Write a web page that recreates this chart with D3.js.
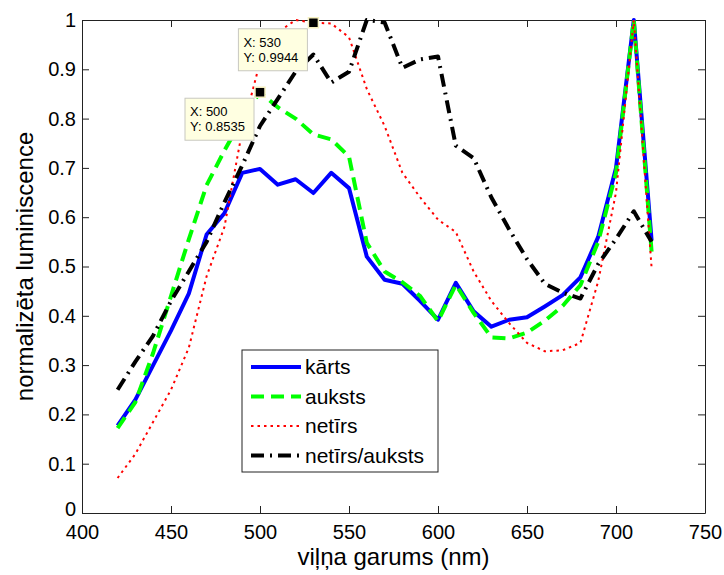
<!DOCTYPE html>
<html>
<head>
<meta charset="utf-8">
<script src="https://cdn.jsdelivr.net/npm/d3@7"></script>
<style>
  body { margin: 0; background: #fff; }
  svg { display: block; font-family: "Liberation Sans", Arial, sans-serif; }
</style>
</head>
<body>
<svg></svg>
<script>
// wavelength (nm)
let wavelengths = [420, 430, 440, 450, 460, 470, 480, 490, 500, 510, 520, 530, 540, 550, 560, 570,
  580, 590, 600, 610, 620, 630, 640, 650, 660, 670, 680, 690, 700, 710, 720];

let karts = [0.177, 0.23, 0.30, 0.37, 0.445, 0.565, 0.608, 0.69, 0.698, 0.666, 0.677, 0.649, 0.69, 0.659, 0.52, 0.473,
  0.465, 0.43, 0.392, 0.467, 0.409, 0.378, 0.392, 0.397, 0.419, 0.442, 0.478, 0.56, 0.70, 1.0, 0.553];

let auksts = [0.172, 0.225, 0.325, 0.44, 0.555, 0.665, 0.735, 0.80, 0.8535, 0.823, 0.80, 0.768, 0.758, 0.723, 0.548, 0.49,
  0.468, 0.44, 0.389, 0.463, 0.406, 0.356, 0.354, 0.366, 0.39, 0.42, 0.462, 0.55, 0.69, 1.0, 0.53];

let netirs = [0.071, 0.12, 0.185, 0.25, 0.335, 0.48, 0.58, 0.775, 0.915, 0.975, 1.0, 0.9944, 0.993, 0.965, 0.86, 0.785,
  0.69, 0.64, 0.595, 0.57, 0.49, 0.43, 0.385, 0.345, 0.328, 0.33, 0.345, 0.47, 0.65, 1.0, 0.497];

let netirsAuksts = [0.25, 0.307, 0.36, 0.43, 0.49, 0.55, 0.63, 0.705, 0.785, 0.84, 0.895, 0.93, 0.873, 0.895, 1.0, 0.995,
  0.903, 0.92, 0.926, 0.745, 0.72, 0.64, 0.575, 0.515, 0.465, 0.447, 0.435, 0.505, 0.556, 0.612, 0.55];

let seriesNames = ['kārts', 'auksts', 'netīrs', 'netīrs/auksts'];

let xTicks = [400, 450, 500, 550, 600, 650, 700, 750];
let yTicks = [0, 0.1, 0.2, 0.3, 0.4, 0.5, 0.6, 0.7, 0.8, 0.9, 1];
let yTickLabels = ['0', '0.1', '0.2', '0.3', '0.4', '0.5', '0.6', '0.7', '0.8', '0.9', '1'];

// data tips
let tipX = [530, 500];
let tipY = [0.9944, 0.8535];

let width = 724;
let height = 575;
let plotLeft = 82, plotRight = 705, plotTop = 20, plotBottom = 513;

let svg = d3.select('svg').attr('width', width).attr('height', height);

let xScale = d3.scaleLinear().domain([400, 750]).range([plotLeft, plotRight]);
let yScale = d3.scaleLinear().domain([0, 1]).range([plotBottom, plotTop]);

let styles = [
  { color: '#0000ff', w: 4, dash: null },
  { color: '#00ff00', w: 4, dash: '13,7' },
  { color: '#ff0000', w: 2, dash: '2.5,4' },
  { color: '#000000', w: 4, dash: '13,6,2,6' }
];

let allSeries = [karts, auksts, netirs, netirsAuksts];

// axes box with inward ticks
let drawAxes = () => {
  svg.append('rect')
    .attr('x', plotLeft).attr('y', plotTop)
    .attr('width', plotRight - plotLeft).attr('height', plotBottom - plotTop)
    .attr('fill', '#fff');

  let xAxis = d3.axisBottom(xScale).tickValues(xTicks).tickSizeInner(-7).tickSizeOuter(0).tickPadding(12);
  let yAxis = d3.axisLeft(yScale).tickValues(yTicks).tickSizeInner(-7).tickSizeOuter(0).tickPadding(6)
    .tickFormat((d, i) => yTickLabels[i]);
  let xTop = d3.axisTop(xScale).tickValues(xTicks).tickSizeInner(-7).tickSizeOuter(0).tickFormat('');
  let yRight = d3.axisRight(yScale).tickValues(yTicks).tickSizeInner(-7).tickSizeOuter(0).tickFormat('');

  let gx = svg.append('g').attr('transform', 'translate(0,' + plotBottom + ')').call(xAxis);
  let gy = svg.append('g').attr('transform', 'translate(' + plotLeft + ',0)').call(yAxis);
  let gt = svg.append('g').attr('transform', 'translate(0,' + plotTop + ')').call(xTop);
  let gr = svg.append('g').attr('transform', 'translate(' + plotRight + ',0)').call(yRight);

  [gx, gy, gt, gr].forEach((g) => {
    g.selectAll('path, line').attr('stroke', '#222').attr('stroke-width', 1);
    g.selectAll('text').attr('fill', '#000').style('font-size', '20px').style('font-family', '"Liberation Sans", Arial, sans-serif');
  });
  // lift the y "0" a little so it sits above the "400"
  gy.selectAll('text').filter((d) => d === 0).attr('dy', '0.1em');
};

let drawLines = () => {
  let line = (vals) => d3.line()
    .x((d, i) => xScale(wavelengths[i]))
    .y((d) => yScale(d))(vals);

  allSeries.forEach((vals, k) => {
    svg.append('path')
      .attr('d', line(vals))
      .attr('fill', 'none')
      .attr('stroke', styles[k].color)
      .attr('stroke-width', styles[k].w)
      .attr('stroke-dasharray', styles[k].dash)
      .attr('stroke-linejoin', 'round');
  });
};

let drawLabels = () => {
  svg.append('text')
    .attr('x', (plotLeft + plotRight) / 2).attr('y', 565)
    .attr('text-anchor', 'middle')
    .style('font-size', '24px')
    .text('viļņa garums (nm)');

  svg.append('text')
    .attr('transform', 'translate(33,' + ((plotTop + plotBottom) / 2) + ') rotate(-90)')
    .attr('text-anchor', 'middle')
    .style('font-size', '24px')
    .text('normalizēta luminiscence');
};

let drawLegend = () => {
  let lg = svg.append('g').attr('transform', 'translate(242,350)');
  lg.append('rect')
    .attr('width', 196).attr('height', 122)
    .attr('fill', '#fff').attr('stroke', '#222').attr('stroke-width', 1);

  seriesNames.forEach((name, k) => {
    let yy = 17 + k * 29.5;
    lg.append('line')
      .attr('x1', 9).attr('x2', 59).attr('y1', yy).attr('y2', yy)
      .attr('stroke', styles[k].color)
      .attr('stroke-width', styles[k].w)
      .attr('stroke-dasharray', styles[k].dash);
    lg.append('text')
      .attr('x', 63).attr('y', yy + 7)
      .style('font-size', '21px')
      .text(name);
  });
};

let drawTips = () => {
  tipX.forEach((tx, i) => {
    let px = xScale(tx), py = yScale(tipY[i]);
    let g = svg.append('g').attr('transform', 'translate(' + (px - 75) + ',' + (py + 6) + ')');
    g.append('rect')
      .attr('width', 69).attr('height', 42)
      .attr('fill', '#ffffe1').attr('stroke', '#c8c8c0').attr('stroke-width', 1);
    g.append('text').attr('x', 5).attr('y', 18).style('font-size', '13px').text('X: ' + tx);
    g.append('text').attr('x', 5).attr('y', 33).style('font-size', '13px').text('Y: ' + tipY[i]);
    svg.append('rect')
      .attr('x', px - 5).attr('y', py - 5)
      .attr('width', 10).attr('height', 10)
      .attr('fill', '#000').attr('stroke', '#f5f0c0').attr('stroke-width', 1.5);
  });
};

drawAxes();
drawLines();
drawLegend();
drawLabels();
drawTips();
</script>
</body>
</html>
